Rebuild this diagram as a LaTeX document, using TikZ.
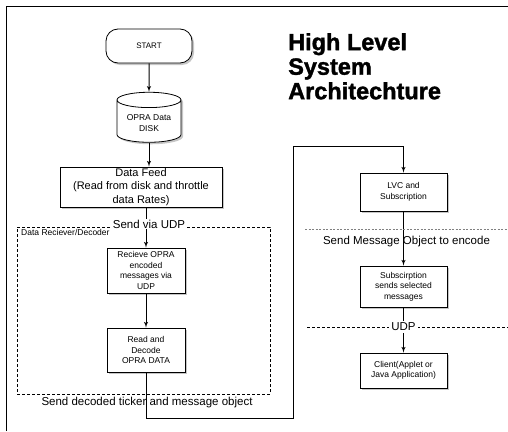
\documentclass[tikz,border=0pt]{standalone}
\usepackage{fontspec}
\setmainfont{Liberation Sans}
\newfontfamily\headfont{Liberation Sans}[BoldFeatures={FakeBold=1.5}]
\usetikzlibrary{shapes,arrows,shadows}

\begin{document}
\begin{tikzpicture}[x=1pt,y=-1pt]
	\tikzstyle{terminator} = [rectangle, draw, thick, fill=white, text centered, rounded corners=12pt, drop shadow={shadow xshift=2pt, shadow yshift=-2pt, opacity=0.45}, font=\fontsize{8}{9.5}\selectfont]
	\tikzstyle{process} = [rectangle, draw, thick, fill=white, text centered, align=center, inner sep=2pt, drop shadow={shadow xshift=2pt, shadow yshift=-2pt, opacity=0.45}, font=\fontsize{8.5}{10.5}\selectfont]
	\tikzstyle{storage} = [cylinder, shape border rotate=90, shape aspect=0.3, draw, thick, fill=white, align=center, drop shadow={shadow xshift=2pt, shadow yshift=-2pt, opacity=0.45}, font=\fontsize{8.5}{10.5}\selectfont]
	\tikzstyle{group} = [rectangle, draw, thick, dash pattern=on 3pt off 2pt]
	\tikzstyle{msgtext} = [inner sep=1pt, font=\fontsize{11.5}{13}\selectfont]
	\tikzstyle{connector} = [draw, line width=1pt, -latex']
\useasboundingbox (0,0) rectangle (508,431);
\draw [thick] (6,431) -- (6,6) -- (508,6);
\node [anchor=north west, align=left, inner sep=0pt, font=\fontsize{23.5}{24.5}\headfont\bfseries] at (288,33) (title) {High Level\\System\\Architechture};
\node [group, minimum width=253pt, minimum height=167pt] at (143.5,310.5) (decoder) {};
\node [anchor=north west, inner sep=1pt, font=\fontsize{8.5}{10}\selectfont] at (20,228) (grouptitle) {Data Reciever/Decoder};
\node [terminator, minimum width=86pt, minimum height=34pt] at (149,46) (start) {START};
\node [storage, minimum width=64pt, minimum height=50pt] at (149,123) (disk) {OPRA Data\\DISK};
\node [process, minimum width=162pt, minimum height=40pt, inner sep=1pt, font=\fontsize{11}{13.5}\selectfont] at (141,187) (feed) {Data Feed\\(Read from disk and throttle\\data Rates)};
\node [process, minimum width=78pt, minimum height=45pt] at (146,270.5) (recv) {Recieve OPRA\\encoded\\messages via\\UDP};
\node [process, minimum width=78pt, minimum height=44pt] at (146,350) (read) {Read and\\Decode\\OPRA DATA};
\node [process, minimum width=87pt, minimum height=38pt] at (403.5,192) (lvc) {LVC and\\Subscription};
\node [process, minimum width=87pt, minimum height=41pt] at (403.5,286.5) (subs) {Subscirption\\sends selected\\messages};
\node [process, minimum width=87pt, minimum height=35pt] at (403.5,370.5) (client) {Client(Applet or\\Java Application)};
\coordinate (bendA) at (293,418);
\coordinate (bendB) at (293,146);
\path [connector] (start) -- (disk);
\path [connector] (disk) -- (disk |- feed.north);
\path [connector] (feed.south -| recv) -- (recv);
\path [connector] (recv) -- (read);
\path [connector] (read.south) |- (bendA) -- (bendB) -| (lvc.north);
\path [connector] (lvc) -- (subs);
\path [connector] (subs) -- (client);
\draw [thick, gray, dash pattern=on 2pt off 1.5pt] (305,229) -- (508,229);
\draw [thick, dash pattern=on 3pt off 2pt] (307,327) -- (508,327);
\node [msgtext, fill=white] at (149,224) (udpsend) {Send via UDP};
\node [msgtext] at (406.5,242) (encode) {Send Message Object to encode};
\node [msgtext, fill=white, inner sep=2pt] at (403.5,327) (udp) {UDP};
\node [msgtext] at (147,403) (decoded) {Send decoded ticker and message object};
\end{tikzpicture}
\end{document}
